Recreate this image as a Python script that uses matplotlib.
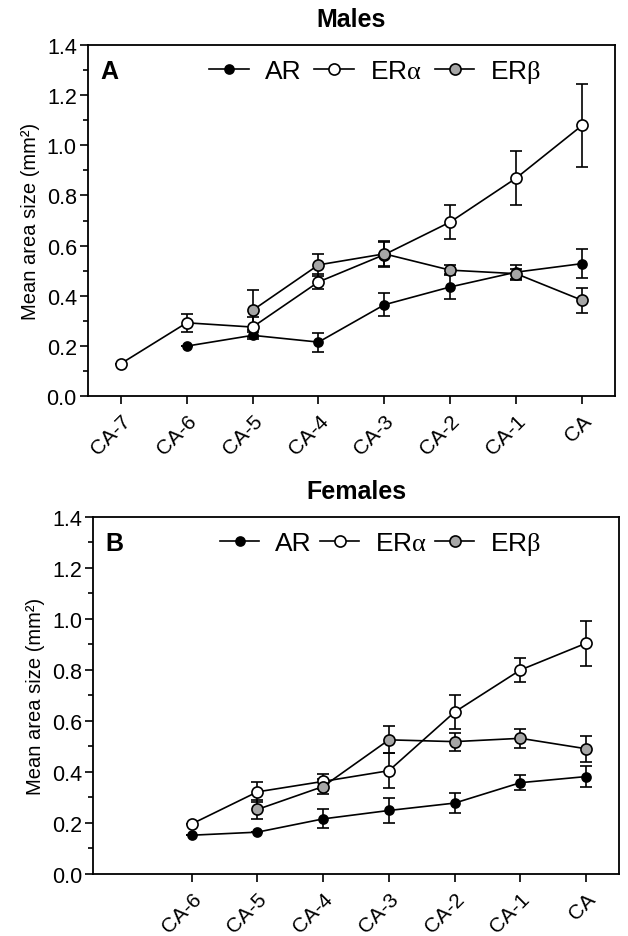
import numpy as np
import matplotlib
matplotlib.use('Agg')
import matplotlib.pyplot as plt
from matplotlib.lines import Line2D
from matplotlib.ticker import MultipleLocator

plt.rcParams['font.family'] = ['Liberation Sans', 'DejaVu Sans']
plt.rcParams['mathtext.fontset'] = 'custom'
plt.rcParams['mathtext.rm'] = 'Liberation Serif'

stages = ['CA-7', 'CA-6', 'CA-5', 'CA-4', 'CA-3', 'CA-2', 'CA-1', 'CA']

# Males (panel A); None = no data at that stage
male_ar = [None, 0.199, 0.242, 0.215, 0.364, 0.435, 0.494, 0.528]
male_ar_sem = [None, 0.0, 0.015, 0.038, 0.045, 0.05, 0.03, 0.058]
male_era = [0.129, 0.292, 0.275, 0.455, 0.564, 0.694, 0.869, 1.079]
male_era_sem = [0.0, 0.035, 0.04, 0.03, 0.05, 0.066, 0.108, 0.165]
male_erb = [None, None, 0.342, 0.523, 0.567, 0.502, 0.488, 0.382]
male_erb_sem = [None, None, 0.08, 0.045, 0.05, 0.02, 0.02, 0.05]

# Females (panel B)
female_ar = [None, 0.152, 0.164, 0.216, 0.249, 0.278, 0.358, 0.382]
female_ar_sem = [None, 0.0, 0.0, 0.037, 0.05, 0.04, 0.03, 0.04]
female_era = [None, 0.196, 0.322, 0.363, 0.405, 0.635, 0.800, 0.905]
female_era_sem = [None, 0.0, 0.04, 0.03, 0.068, 0.066, 0.048, 0.089]
female_erb = [None, None, 0.253, 0.343, 0.526, 0.519, 0.532, 0.491]
female_erb_sem = [None, None, 0.037, 0.03, 0.053, 0.035, 0.038, 0.05]


def series(vals, sems):
    x = [i for i, v in enumerate(vals) if v is not None]
    y = [vals[i] for i in x]
    e = [sems[i] for i in x]
    return x, y, e


def panel(ax, data, letter, title, shown_ticks, leg_x, colsp):
    styles = [('AR', 'black', 6.5), (r'ER$\mathrm{\alpha}$', 'white', 8), (r'ER$\mathrm{\beta}$', '#a6a6a6', 8)]
    handles = []
    for (vals, sems), (lab, fc, ms) in zip(data, styles):
        x, y, e = series(vals, sems)
        ax.errorbar(x, y, yerr=e, color='black', lw=1.2, marker='o', ms=ms,
                    mfc=fc, mec='black', mew=1.2, capsize=4, capthick=1.2,
                    elinewidth=1.2)
        handles.append(Line2D([], [], color='black', lw=1.2, marker='o', ms=ms,
                              mfc=fc, mec='black', mew=1.2, label=lab))

    ax.set_xlim(-0.5, 7.5)
    ax.set_ylim(0, 1.4)
    ax.yaxis.set_major_locator(MultipleLocator(0.2))
    ax.yaxis.set_minor_locator(MultipleLocator(0.1))
    ax.yaxis.set_major_formatter(plt.FuncFormatter(lambda v, p: '%.1f' % v))
    ax.set_xticks(shown_ticks)
    ax.set_xticklabels([stages[i] for i in shown_ticks], rotation=45, ha='right',
                       rotation_mode='anchor', fontsize=15)
    ax.tick_params(axis='y', labelsize=15.5, pad=2)
    ax.tick_params(which='major', length=6, width=1.2, direction='out')
    ax.tick_params(which='minor', length=3.5, width=1.2, direction='out')
    ax.tick_params(axis='x', pad=5)
    for s in ax.spines.values():
        s.set_linewidth(1.3)
    ax.set_ylabel('Mean area size (mm²)', fontsize=14.5, labelpad=5)
    ax.set_title(title, fontsize=18, fontweight='bold', pad=14)
    ax.text(0.023, 0.926, letter, transform=ax.transAxes, fontsize=18,
            fontweight='bold', ha='left', va='center')
    ax.legend(handles=handles, loc='center left', bbox_to_anchor=(leg_x, 0.925),
              ncol=3, frameon=False, fontsize=19, handlelength=1.5,
              handletextpad=0.6, columnspacing=colsp, borderpad=0, borderaxespad=0)


fig = plt.figure(figsize=(6.28, 9.37), dpi=100)
ax1 = fig.add_axes([0.140, 0.5763, 0.8392, 0.3746])
ax2 = fig.add_axes([0.1481, 0.0662, 0.8376, 0.381])

panel(ax1, [(male_ar, male_ar_sem), (male_era, male_era_sem), (male_erb, male_erb_sem)],
      'A', 'Males', list(range(8)), 0.23, 0.5)
panel(ax2, [(female_ar, female_ar_sem), (female_era, female_era_sem), (female_erb, female_erb_sem)],
      'B', 'Females', list(range(1, 8)), 0.241, 0.3)

fig.savefig('out.png', dpi=100)
